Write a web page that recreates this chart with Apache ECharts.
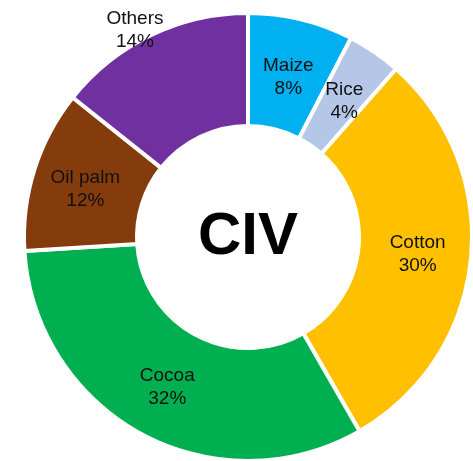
<!DOCTYPE html>
<html>
<head>
<meta charset="utf-8">
<script src="https://cdn.jsdelivr.net/npm/echarts@6/dist/echarts.min.js"></script>
<style>
  html, body { margin: 0; padding: 0; background: #fff; }
  #chart { width: 473px; height: 461px; }
</style>
</head>
<body>
<div id="chart"></div>
<script>
// crop shares for CIV (%), clockwise from 12 o'clock
const crops = ['Maize', 'Rice', 'Cotton', 'Cocoa', 'Oil palm', 'Others']
const shares = [7.6, 3.9, 30.2, 32.3, 11.7, 14.3]
const colors = ['#00B0F0', '#B4C7E7', '#FFC000', '#00B050', '#843C0C', '#7030A0']
const centerText = 'CIV'

// small nudges so labels sit where the original placed them
const labelShift = {
  0: { dy: 6 },
  1: { dy: 5 },
  4: { dy: 3 },
  5: { dx: -39, dy: -53 } // Others label sits up over the rim
}

const chart = echarts.init(document.getElementById('chart'))

const option = {
  animation: false,
  graphic: [
    {
      type: 'text',
      style: {
        text: centerText,
        x: 248,
        y: 237,
        align: 'center',
        verticalAlign: 'middle',
        fontFamily: 'Liberation Sans, Arial, sans-serif',
        fontWeight: 'bold',
        fontSize: 60,
        fill: '#000'
      }
    }
  ],
  series: [
    {
      type: 'pie',
      center: [248, 237],
      radius: [111, 224],
      startAngle: 90,
      clockwise: true,
      avoidLabelOverlap: false,
      itemStyle: {
        borderColor: '#fff',
        borderWidth: 4
      },
      label: {
        show: true,
        position: 'inside',
        formatter: p => p.name + '\n' + Math.round(p.value) + '%',
        fontFamily: 'Liberation Sans, Arial, sans-serif',
        fontSize: 19,
        lineHeight: 23,
        color: '#111'
      },
      labelLine: { show: false },
      labelLayout: p => labelShift[p.dataIndex] || {},
      emphasis: { disabled: true },
      data: crops.map((name, i) => ({
        name: name,
        value: shares[i],
        itemStyle: { color: colors[i] }
      }))
    }
  ]
}

chart.setOption(option)
</script>
</body>
</html>
